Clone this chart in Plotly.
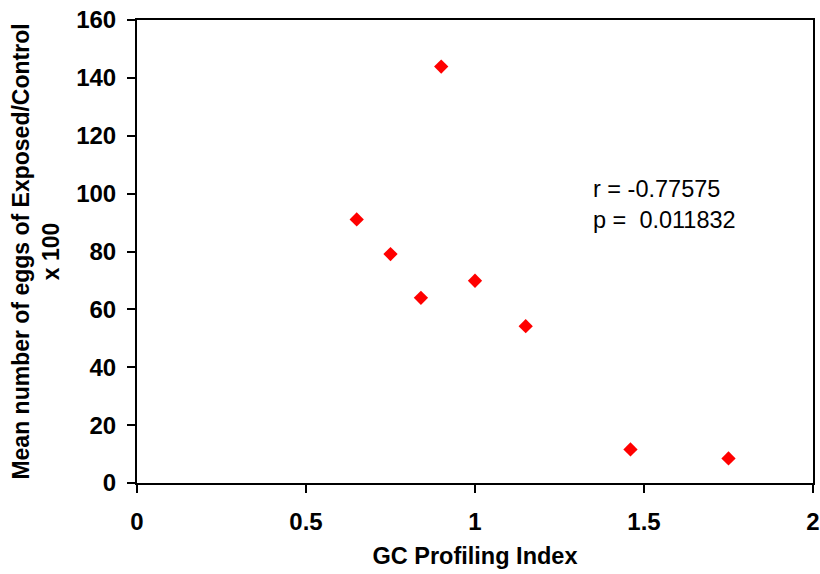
import plotly.graph_objects as go

gc_index = [0.65, 0.75, 0.84, 0.90, 1.00, 1.15, 1.46, 1.75]
mean_eggs = [91.1, 79.1, 64.0, 143.9, 69.9, 54.2, 11.6, 8.5]
x_ticks = [0, 0.5, 1, 1.5, 2]
x_tick_labels = ["0", "0.5", "1", "1.5", "2"]
y_ticks = [0, 20, 40, 60, 80, 100, 120, 140, 160]

fig = go.Figure()
fig.add_trace(go.Scatter(
    x=gc_index, y=mean_eggs, mode="markers",
    marker=dict(symbol="diamond", size=11, color="#ff0000", line=dict(width=0)),
    showlegend=False, cliponaxis=False,
))

axis_common = dict(
    showline=True, linecolor="black", linewidth=2, mirror=True,
    ticks="outside", ticklen=8, tickwidth=1.5, tickcolor="black",
    showgrid=False, zeroline=False, automargin=False,
    tickfont=dict(family="Liberation Sans, Arial", size=24, color="black", weight="bold"),
)

fig.update_layout(
    width=820, height=574,
    margin=dict(l=137, r=7, t=20, b=91),
    paper_bgcolor="white", plot_bgcolor="white",
    font=dict(family="Liberation Sans, Arial", color="black"),
    xaxis=dict(range=[0, 2], tickvals=x_ticks, ticktext=x_tick_labels,
               title=dict(text="<b>GC Profiling Index</b>", font=dict(size=23.5), standoff=14),
               ticklabelstandoff=8, **axis_common),
    yaxis=dict(range=[0, 160], tickvals=y_ticks,
               title=dict(text="<b>Mean number of eggs of Exposed/Control<br>x 100</b>", font=dict(size=23), standoff=10),
               ticklabelstandoff=6, **axis_common),
)

fig.add_annotation(
    x=0.672, y=0.667, xref="paper", yref="paper", xanchor="left", yanchor="top",
    text="r = -0.77575<br>p =  0.011832", showarrow=False, align="left",
    font=dict(family="Liberation Sans, Arial", size=23.5, color="black"),
)

fig.write_html("out.html")
